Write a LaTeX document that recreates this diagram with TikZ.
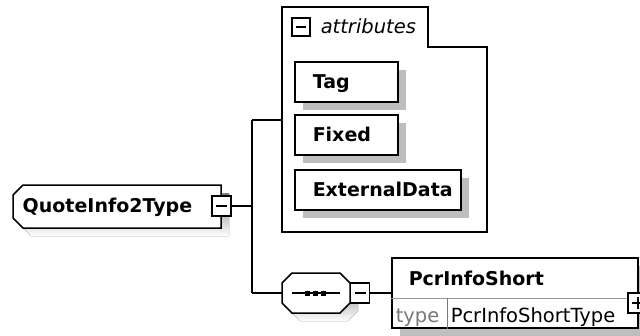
\documentclass[tikz,border=0pt]{standalone}
\usepackage{fontspec}
\setmainfont{DejaVu Sans}
\usetikzlibrary{shadows}
\definecolor{shade}{RGB}{190,190,190}
\definecolor{sepgray}{RGB}{150,150,150}
\definecolor{typegray}{RGB}{120,120,120}
\begin{document}
\begin{tikzpicture}[x=1pt,y=-1pt,line width=1.5pt,
  boldtxt/.style={font=\fontsize{19}{22}\selectfont\bfseries,inner sep=0pt,anchor=base west},
  regtxt/.style={font=\fontsize{19.5}{22}\selectfont,inner sep=0pt,anchor=base west},
  itxt/.style={font=\fontsize{19.5}{22}\selectfont\itshape,inner sep=0pt,anchor=base west},
  minbox/.style={draw,fill=white,inner sep=0pt,minimum width=19pt,minimum height=20pt,
    path picture={\draw ([xshift=4pt]path picture bounding box.west) -- ([xshift=-4pt]path picture bounding box.east);}},
  plusbox/.style={draw,fill=white,inner sep=0pt,minimum width=20pt,minimum height=20pt,
    path picture={\draw ([xshift=4pt]path picture bounding box.west) -- ([xshift=-4pt]path picture bounding box.east);
                  \draw ([yshift=-4pt]path picture bounding box.north) -- ([yshift=4pt]path picture bounding box.south);}},
  elbox/.style={draw,fill=white,inner sep=0pt,
    general shadow={fill=shade,shadow xshift=8pt,shadow yshift=-8pt}}]
\useasboundingbox (0,0) rectangle (640,335);

% ---- QuoteInfo2Type (left-chamfered box) ----
\fill[shade] (31,193) -- (229,193) -- (229,236) -- (31,236) -- (21,226) -- (21,203) -- cycle;
\draw[fill=white] (23,185) -- (221,185) -- (221,228) -- (23,228) -- (13,218) -- (13,195) -- cycle;
\node[boldtxt] (qtxt) at (22,212.5) {QuoteInfo2Type};
\node[minbox] (qm) at (221.5,206) {};

% ---- spine ----
\coordinate (sp) at (252,206);
\coordinate (spt) at (252,120);
\coordinate (spb) at (252,293);
\draw (qm.east) -- (sp);
\draw (spt) -- (spb);

% ---- attributes container ----
\draw (282,7) -- (428,7) -- (428,47) -- (487,47) -- (487,232) -- (282,232) -- cycle;
\coordinate (attrin) at (282,120);
\draw (spt) -- (attrin);
\node[minbox,minimum width=18pt,minimum height=18pt] (am) at (301,27) {};
\node[itxt] (atxt) at (320,33.5) {attributes};

\node[elbox,minimum width=103pt,minimum height=40pt] (tag) at (346.5,82) {};
\node[boldtxt] (tagt) at (312,88) {Tag};
\node[elbox,minimum width=103pt,minimum height=40pt] (fixed) at (346.5,135) {};
\node[boldtxt] (fixedt) at (312,141) {Fixed};
\node[elbox,minimum width=166pt,minimum height=40pt] (ext) at (378,190) {};
\node[boldtxt] (extt) at (312,196.5) {ExternalData};

% ---- sequence compositor ----
\fill[shade] (300,281) -- (348,281) -- (358,291) -- (358,311) -- (348,321) -- (300,321) -- (290,311) -- (290,291) -- cycle;
\draw[fill=white] (292,273) -- (340,273) -- (350,283) -- (350,303) -- (340,313) -- (292,313) -- (282,303) -- (282,283) -- cycle;
\coordinate (seqin) at (282,293);
\draw (spb) -- (seqin);
\draw (292,293) -- (340,293);
\fill (304.5,290.5) rectangle (309.5,295.5);
\fill (312.5,290.5) rectangle (317.5,295.5);
\fill (320.5,290.5) rectangle (325.5,295.5);
\node[minbox] (sm) at (360,293) {};

% ---- PcrInfoShort element ----
\node[elbox,minimum width=246pt,minimum height=70pt] (pcr) at (515,293) {};
\draw (sm.east) -- (pcr.west);
\draw[sepgray,line width=1pt] (pcr.west |- 0,298) -- (pcr.east |- 0,298);
\draw[typegray,line width=1pt] (447,298) -- (pcr.south -| 447,0);
\node[boldtxt] (pcrt) at (408,285.5) {PcrInfoShort};
\node[regtxt,text=typegray] (typet) at (395,322) {type};
\node[regtxt] (typev) at (450,322) {PcrInfoShortType};
\node[plusbox] (pp) at (638,303) {};
\end{tikzpicture}
\end{document}
